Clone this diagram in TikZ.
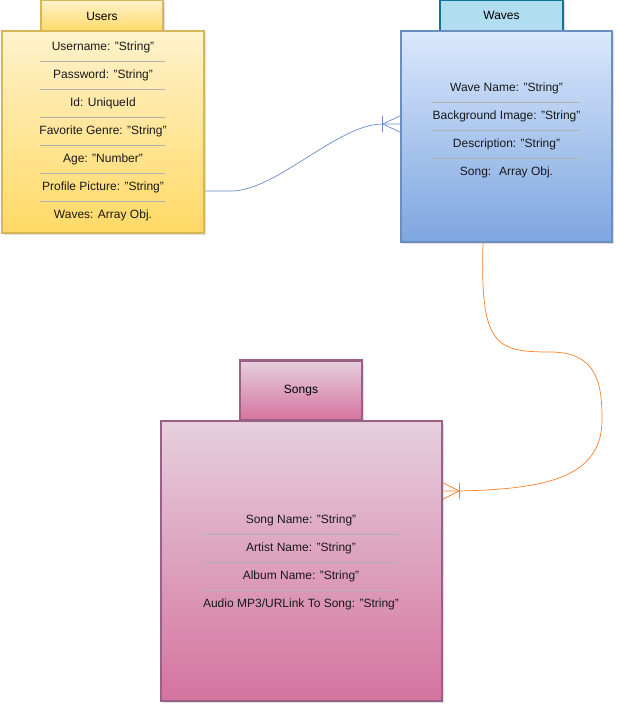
\documentclass[tikz,border=0pt]{standalone}
\usepackage{fontspec}
\setmainfont{Liberation Sans}
\usetikzlibrary{shadows}
\definecolor{userTop}{HTML}{FFF2CC}
\definecolor{userBot}{HTML}{FFD966}
\definecolor{userLine}{HTML}{D6B656}
\definecolor{waveTab}{HTML}{B1DDF0}
\definecolor{waveTabLine}{HTML}{10739E}
\definecolor{waveTop}{HTML}{DAE8FC}
\definecolor{waveBot}{HTML}{7EA6E0}
\definecolor{waveLine}{HTML}{6C8EBF}
\definecolor{songTop}{HTML}{E6D0DE}
\definecolor{songBot}{HTML}{D5739D}
\definecolor{songLine}{HTML}{996185}
\definecolor{relBlue}{HTML}{6A8AC8}
\definecolor{relOrange}{HTML}{FF7F27}
\begin{document}
\begin{tikzpicture}[
x=1pt,
y=-1pt,
tab/.style={%
draw,
line width=2.5pt,
minimum width=122pt,
inner sep=0pt,
font=\fontsize{12}{14}\selectfont,
drop shadow={shadow xshift=2pt,shadow yshift=-2pt,opacity=0.25},
},
ent/.style={%
draw,
line width=2.5pt,
inner sep=0pt,
drop shadow={shadow xshift=2pt,shadow yshift=-2pt,opacity=0.25},
},
fld/.style={%
inner sep=0pt,
text=black!90,
font=\fontsize{12}{14}\selectfont,
},
sep/.style={%
draw=black!30,
line width=0.9pt,
},
rel/.style={%
line width=0.7pt,
},
]
\useasboundingbox (0,0) rectangle (619,709);
%% Users
\node[tab, top color=userTop, bottom color=userBot, draw=userLine, minimum height=32pt]at(102,16)(users_tab){Users};
\node[ent, top color=userTop, bottom color=userBot, draw=userLine, minimum width=202pt, minimum height=202pt]at(103,132)(users){};
\foreach \t [count=\i] in {Username: "String", Password: "String", Id: UniqueId, Favorite Genre: "String", Age: "Number", Profile Picture: "String", Waves: Array Obj.}{%
\node[fld]at(103,{47+28*(\i-1)})(u_\i){\t};
}
\foreach \k in {0,...,5}{%
\draw[sep](40,{61+28*\k})--(165,{61+28*\k});
}
%% Waves
\node[tab, fill=waveTab, draw=waveTabLine, minimum width=123pt, minimum height=31pt]at(501.5,15.5)(waves_tab){Waves};
\node[ent, top color=waveTop, bottom color=waveBot, draw=waveLine, minimum width=211pt, minimum height=211pt]at(506.5,136.5)(waves){};
\foreach \t [count=\i] in {Wave Name: "String", Background Image: "String", Description: "String", Song:~ Array Obj.}{%
\node[fld]at(506.5,{88+28*(\i-1)})(w_\i){\t};
}
\foreach \k in {0,1,2}{%
\draw[sep](432,{102+28*\k})--(580,{102+28*\k});
}
%% Songs
\node[tab, top color=songTop, bottom color=songBot, draw=songLine, minimum height=60pt]at(301,390.5)(songs_tab){Songs};
\node[ent, top color=songTop, bottom color=songBot, draw=songLine, minimum width=281pt, minimum height=280pt]at(301.5,561)(songs){};
\foreach \t [count=\i] in {Song Name: "String", Artist Name: "String", Album Name: "String", Audio MP3/URLink To Song: "String"}{%
\node[fld]at(301,{520+28*(\i-1)})(s_\i){\t};
}
\foreach \k in {0,1,2}{%
\draw[sep](203,{534+28*\k})--(399,{534+28*\k});
}
%% Relations
\coordinate (u_out) at ([yshift=-59pt]users.east);
\coordinate (w_in) at ([yshift=12.5pt]waves.west);
\coordinate (w_out) at ([xshift=-23.5pt]waves.south);
\coordinate (s_in) at ([yshift=70pt]songs.east);
\draw[rel, draw=relBlue](u_out)--++(26,0) .. controls +(45,0) and +(-45,0) .. ([xshift=-17pt]w_in)--(w_in);
\draw[rel, draw=relBlue]([xshift=-17pt,yshift=8pt]w_in)--++(0,16);
\draw[rel, draw=relBlue]([yshift=8pt]w_in)--([xshift=-17pt]w_in)--([yshift=-8pt]w_in);
\draw[rel, draw=relOrange](w_out) .. controls (480,345) and (495,352) .. (550,352) .. controls (598,352) and (602,385) .. (602,420) .. controls (602,480) and (540,489) .. ([xshift=16pt]s_in)--(s_in);
\draw[rel, draw=relOrange]([xshift=16pt,yshift=8pt]s_in)--++(0,16);
\draw[rel, draw=relOrange]([yshift=8pt]s_in)--([xshift=16pt]s_in)--([yshift=-8pt]s_in);
\end{tikzpicture}
\end{document}
